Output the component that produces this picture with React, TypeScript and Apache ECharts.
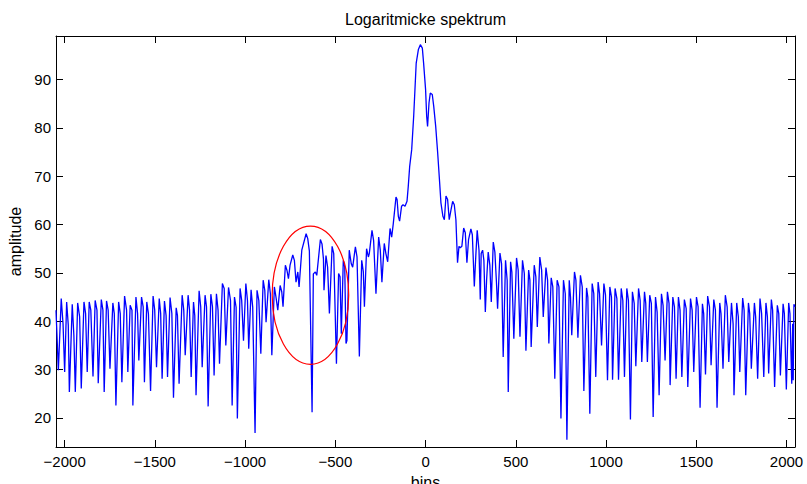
import { useEffect, useRef } from "react";
import * as echarts from "echarts";

// spectrum: [bin, amplitude]
const seg1 = [
  [-2048, 42.3], [-2035, 29.9], [-2019, 44.7], [-2009, 39.5], [-2000, 29.5], [-1989, 44.0], [-1980, 39.2], [-1974, 25.4],
  [-1958, 43.5], [-1949, 37.1], [-1941, 25.4], [-1928, 43.8], [-1917, 40.9], [-1908, 26.1], [-1893, 44.0], [-1884, 41.6],
  [-1875, 29.5], [-1864, 44.0], [-1855, 42.3], [-1843, 28.6], [-1831, 44.3], [-1821, 42.3], [-1814, 27.2], [-1797, 44.5],
  [-1788, 42.3], [-1781, 25.4], [-1768, 44.2], [-1759, 42.3], [-1749, 30.2], [-1733, 43.8], [-1725, 41.6], [-1716, 22.6],
  [-1701, 44.0], [-1692, 41.6], [-1683, 27.4], [-1668, 45.2], [-1657, 42.3], [-1650, 29.5], [-1637, 43.3], [-1627, 42.3],
  [-1622, 22.6], [-1605, 45.0], [-1596, 41.6], [-1589, 31.9], [-1574, 45.0], [-1565, 43.0],
];
const seg2 = [
  [-1558, 27.4], [-1545, 44.0], [-1536, 41.6], [-1524, 25.6], [-1510, 45.2], [-1501, 42.3], [-1491, 30.5], [-1476, 44.7],
  [-1468, 41.6], [-1460, 28.1], [-1447, 44.2], [-1438, 41.2], [-1430, 28.5], [-1416, 44.9], [-1406, 41.6], [-1397, 24.2],
  [-1382, 42.8], [-1375, 41.2], [-1366, 27.1], [-1349, 45.4], [-1340, 42.3], [-1332, 33.0], [-1316, 45.4], [-1308, 42.3],
  [-1299, 28.5], [-1286, 44.0], [-1279, 41.2], [-1272, 24.7], [-1255, 46.3], [-1246, 43.0], [-1238, 30.5], [-1222, 45.4],
  [-1214, 43.0], [-1205, 22.4], [-1190, 45.6], [-1181, 43.0], [-1172, 28.8], [-1159, 45.7], [-1150, 42.3], [-1142, 31.2],
  [-1126, 47.8], [-1116, 46.8], [-1107, 35.0],
];
const seg3 = [
  [-1092, 47.0], [-1081, 44.3], [-1072, 22.6], [-1059, 45.0], [-1050, 42.9], [-1043, 19.9], [-1028, 46.8], [-1019, 44.3],
  [-1009, 36.0], [-996, 47.8], [-987, 44.3], [-980, 34.3], [-967, 46.5], [-958, 42.9], [-945, 16.9], [-934, 46.4],
  [-924, 44.3], [-913, 33.3], [-900, 48.5], [-891, 46.4], [-884, 39.8], [-869, 48.6], [-860, 45.7], [-852, 33.0],
  [-838, 47.1], [-829, 45.0], [-819, 42.3], [-806, 47.4], [-797, 46.1], [-790, 43.0], [-777, 51.6], [-768, 50.5],
  [-760, 48.8], [-751, 51.6], [-736, 53.7], [-727, 52.6], [-718, 48.1], [-708, 50.2], [-701, 47.1], [-686, 54.7],
  [-662, 58.1], [-653, 57.1], [-644, 54.5],
];
const seg4 = [
  [-629, 21.2], [-622, 49.8], [-611, 50.2], [-603, 49.5], [-583, 56.9], [-574, 56.0], [-566, 52.9], [-563, 46.4],
  [-552, 53.6], [-543, 51.2], [-533, 41.6], [-518, 55.5], [-509, 54.0], [-494, 31.2], [-482, 49.9], [-474, 49.2],
  [-467, 37.4], [-456, 52.6], [-448, 51.2], [-441, 35.4], [-436, 36.0], [-423, 54.7], [-412, 51.9], [-404, 51.2],
  [-389, 55.4], [-380, 53.3], [-367, 32.7], [-354, 52.6], [-345, 50.2], [-339, 43.0], [-327, 55.0], [-317, 53.3],
  [-312, 54.0], [-297, 58.8], [-288, 56.7], [-275, 45.7], [-260, 57.4], [-251, 54.7], [-242, 48.1], [-229, 56.1],
  [-220, 54.0], [-210, 52.3], [-197, 59.2], [-188, 57.4], [-179, 60.2],
];
const seg5 = [
  [-164, 65.7], [-158, 65.2], [-151, 61.7], [-144, 60.7], [-133, 63.8], [-125, 64.1], [-114, 63.8], [-103, 64.8],
  [-96, 67.9], [-88, 72.1], [-77, 75.5], [-66, 82.4], [-59, 87.9], [-52, 93.4], [-40, 96.2], [-29, 97.2],
  [-18, 96.5], [-11, 93.4], [0, 87.9], [6, 82.4], [11, 80.3], [19, 85.2], [26, 87.2], [37, 86.9],
  [45, 84.5], [56, 80.3], [67, 74.8], [78, 68.6], [85, 64.5], [96, 61.7], [104, 61.0], [113, 65.9],
  [122, 65.2], [131, 61.0], [141, 63.1], [150, 64.8], [159, 64.1], [168, 61.0], [177, 52.1], [185, 55.5],
  [192, 55.2], [201, 55.5], [211, 59.3], [220, 58.3], [229, 52.1], [238, 56.9], [251, 59.1], [259, 57.9],
  [270, 47.2], [279, 54.1], [286, 58.8], [296, 54.7],
];
const seg6 = [
  [303, 44.5], [308, 54.0], [316, 54.7], [323, 52.6], [331, 41.9], [338, 48.5], [347, 54.3], [356, 51.6],
  [364, 44.0], [375, 56.4], [384, 54.3], [393, 47.8], [399, 42.6], [412, 54.1], [421, 51.9], [430, 32.6],
  [443, 52.6], [452, 48.5], [458, 25.4], [471, 52.3], [478, 50.2], [489, 36.4], [504, 53.1], [513, 50.6],
  [523, 36.8], [537, 52.6], [547, 49.9], [556, 33.9], [571, 50.6], [578, 48.5], [585, 34.7], [602, 51.6],
  [611, 49.2], [619, 38.8], [633, 53.3], [643, 50.6], [652, 40.9], [667, 51.1], [676, 48.5], [683, 35.4],
  [696, 49.0], [705, 47.1], [716, 28.1], [729, 48.5], [739, 47.1], [750, 19.9],
];
const seg7 = [
  [764, 48.5], [774, 45.7], [783, 15.5], [796, 48.5], [803, 45.0], [810, 37.1], [825, 50.2], [833, 48.5],
  [844, 36.6], [858, 49.5], [868, 47.1], [877, 25.6], [892, 46.9], [899, 45.0], [910, 20.9], [923, 47.8],
  [932, 45.7], [943, 28.5], [956, 48.1], [964, 45.7], [975, 35.0], [988, 47.8], [997, 45.4], [1008, 27.8],
  [1021, 47.1], [1030, 45.0], [1036, 27.9], [1050, 46.8], [1060, 44.7], [1069, 27.9], [1084, 46.8], [1093, 44.3],
  [1102, 28.5], [1115, 46.8], [1124, 44.3], [1135, 19.7], [1146, 46.1], [1156, 43.7], [1165, 30.7], [1180, 46.8],
  [1189, 44.3], [1198, 31.6], [1213, 46.1], [1220, 43.7], [1229, 31.6],
];
const seg8 = [
  [1242, 45.4], [1251, 43.7], [1261, 20.2], [1274, 45.0], [1283, 41.9], [1294, 24.7], [1307, 45.7], [1316, 43.3],
  [1327, 31.9], [1340, 46.1], [1349, 43.7], [1355, 26.8], [1370, 45.0], [1379, 43.0], [1388, 28.1], [1401, 45.0],
  [1410, 42.3], [1420, 28.5], [1434, 44.5], [1444, 42.6], [1453, 26.4], [1468, 44.7], [1477, 42.3], [1486, 29.5],
  [1501, 45.0], [1510, 43.0], [1521, 22.1], [1534, 43.6], [1541, 41.6], [1551, 29.0], [1563, 45.2], [1573, 43.0],
  [1582, 30.9], [1597, 44.5], [1606, 42.3], [1615, 22.1], [1630, 43.8], [1637, 41.6], [1648, 30.2], [1661, 45.4],
  [1671, 43.0], [1680, 31.6], [1695, 43.8], [1704, 39.5],
];
const seg9 = [
  [1709, 24.7], [1724, 43.8], [1733, 40.9], [1741, 29.5], [1757, 44.8], [1765, 42.3], [1774, 24.7], [1789, 43.8],
  [1796, 41.6], [1805, 30.2], [1822, 43.8], [1829, 40.9], [1840, 28.1], [1853, 44.7], [1862, 41.6], [1874, 28.5],
  [1886, 43.8], [1894, 40.9], [1901, 29.2], [1916, 44.5], [1923, 42.3], [1934, 26.4], [1949, 43.3], [1957, 41.6],
  [1966, 28.8], [1981, 43.6], [1988, 41.6], [1999, 25.9], [2012, 43.8], [2019, 41.6], [2029, 27.1], [2034, 39.5],
  [2037, 27.8], [2041, 43.5], [2047, 43.0],
];

const xTicks = [-2000, -1500, -1000, -500, 0, 500, 1000, 1500, 2000];
const yTicks = [20, 30, 40, 50, 60, 70, 80, 90];
const xRange = [-2048, 2047];
const yRange = [14, 99];
const titleText = "Logaritmicke spektrum";
const xName = "bins";
const yName = "amplitude";
// red annotation ellipse, in data units
const ellipseCenter = [-638, 45.4];
const ellipseRadius = [212, 14.3];

const FONT = "'Liberation Sans', Arial, Helvetica, sans-serif";

export default function App() {
  const ref = useRef<HTMLDivElement>(null);
  useEffect(() => {
    const chart = echarts.init(ref.current!, null, { renderer: "svg" });
    const data = [...seg1, ...seg2, ...seg3, ...seg4, ...seg5, ...seg6, ...seg7, ...seg8, ...seg9];
    const fmt = (v: number) => String(v).replace("-", "\u2212");
    const line = { onZero: false, lineStyle: { color: "#000", width: 1 } };
    const tick = (vals: number[]) => ({
      inside: true,
      length: 7,
      customValues: vals,
      lineStyle: { color: "#000", width: 1 },
    });
    chart.setOption({
      animation: false,
      backgroundColor: "#fff",
      grid: { left: 56, right: 12, top: 36, bottom: 37, outerBoundsMode: "none", containLabel: false },
      xAxis: [
        {
          type: "value",
          min: xRange[0],
          max: xRange[1],
          position: "bottom",
          axisLine: line,
          axisTick: tick(xTicks),
          axisLabel: {
            customValues: xTicks,
            formatter: fmt,
            color: "#000",
            fontSize: 15,
            fontFamily: FONT,
            margin: 7,
          },
          splitLine: { show: false },
          name: xName,
          nameLocation: "middle",
          nameGap: 27,
          nameTextStyle: { color: "#000", fontSize: 16, fontFamily: FONT },
        },
        {
          type: "value",
          min: xRange[0],
          max: xRange[1],
          position: "top",
          axisLine: line,
          axisTick: tick(xTicks),
          axisLabel: { show: false },
          splitLine: { show: false },
        },
      ],
      yAxis: [
        {
          type: "value",
          min: yRange[0],
          max: yRange[1],
          position: "left",
          axisLine: line,
          axisTick: tick(yTicks),
          axisLabel: {
            customValues: yTicks,
            formatter: fmt,
            color: "#000",
            fontSize: 15,
            fontFamily: FONT,
            margin: 5,
          },
          splitLine: { show: false },
          name: yName,
          nameLocation: "middle",
          nameGap: 30,
          nameTextStyle: { color: "#000", fontSize: 16, fontFamily: FONT },
        },
        {
          type: "value",
          min: yRange[0],
          max: yRange[1],
          position: "right",
          axisLine: line,
          axisTick: tick(yTicks),
          axisLabel: { show: false },
          splitLine: { show: false },
        },
      ],
      series: [
        {
          type: "line",
          data,
          xAxisIndex: 0,
          yAxisIndex: 0,
          showSymbol: false,
          symbol: "none",
          lineStyle: { color: "#0000ff", width: 1.3 },
          silent: true,
        },
      ],
    });
    const c = chart.convertToPixel({ seriesIndex: 0 }, ellipseCenter) as number[];
    const e = chart.convertToPixel({ seriesIndex: 0 }, [
      ellipseCenter[0] + ellipseRadius[0],
      ellipseCenter[1] + ellipseRadius[1],
    ]) as number[];
    const mid = chart.convertToPixel({ seriesIndex: 0 }, [(xRange[0] + xRange[1]) / 2, yRange[1]]) as number[];
    chart.setOption({
      graphic: [
        {
          type: "ellipse",
          shape: { cx: c[0], cy: c[1], rx: e[0] - c[0], ry: c[1] - e[1] },
          style: { fill: "none", stroke: "#ff0000", lineWidth: 1.2 },
          silent: true,
          z: 10,
        },
        {
          type: "text",
          x: mid[0],
          y: mid[1] - 17,
          style: {
            text: titleText,
            fill: "#000",
            fontSize: 16,
            fontFamily: FONT,
            textAlign: "center",
            textVerticalAlign: "middle",
          },
        },
      ],
    });
    return () => chart.dispose();
  }, []);
  return (
    <div
      ref={ref}
      style={{ position: "fixed", left: 0, top: 0, width: 807, height: 484 }}
    />
  );
}
